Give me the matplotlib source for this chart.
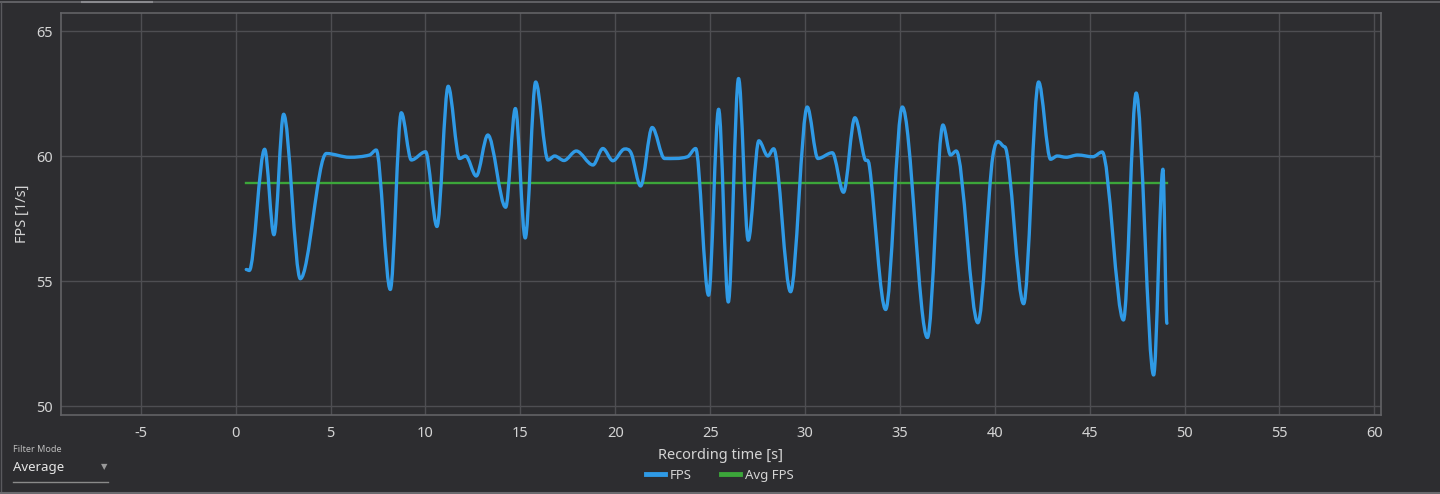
import matplotlib
matplotlib.use("Agg")
import matplotlib.pyplot as plt
from matplotlib.path import Path
from matplotlib.patches import PathPatch
from matplotlib.lines import Line2D

# values (seconds, frames per second)
time_s = [0.56, 0.72, 1.53, 2.02, 2.53, 3.41, 4.78, 6.0, 7.06, 7.41, 8.15, 8.73,
          9.26, 10.01, 10.61, 11.2, 11.8, 12.12, 12.68, 13.29, 14.23, 14.74,
          15.26, 15.81, 16.46, 16.81, 17.3, 17.95, 18.83, 19.35, 19.88, 20.5,
          20.85, 21.34, 21.95, 22.6, 23.81, 24.24, 24.92, 25.45, 25.96, 26.5,
          27.01, 27.57, 28.04, 28.35, 29.24, 30.12, 30.68, 31.44, 32.03, 32.63,
          33.14, 33.4, 34.25, 35.13, 36.45, 37.27, 37.67, 37.97, 39.11, 39.9,
          40.52, 41.52, 42.31, 42.94, 43.29, 43.76, 44.37, 45.17, 45.66, 46.78,
          47.45, 48.37, 48.86, 49.07]
fps = [55.46, 55.42, 60.27, 56.85, 61.67, 55.09, 60.1, 59.95, 60.04, 60.24, 54.66,
       61.73, 59.84, 60.17, 57.18, 62.79, 59.9, 60.0, 59.2, 60.84, 57.95, 61.9,
       56.72, 62.96, 59.84, 60.0, 59.82, 60.2, 59.64, 60.3, 59.81, 60.28, 60.1,
       58.8, 61.14, 59.9, 59.97, 60.3, 54.43, 61.87, 54.16, 63.1, 56.63, 60.61,
       60.0, 60.29, 54.57, 61.96, 59.9, 60.13, 58.55, 61.53, 59.9, 59.57, 53.86,
       61.96, 52.74, 61.24, 60.04, 60.2, 53.33, 60.0, 60.37, 54.09, 62.96, 59.87,
       60.0, 59.95, 60.04, 59.97, 60.16, 53.44, 62.52, 51.24, 59.47, 53.31]
avg_fps = 58.92

xticks = list(range(-5, 61, 5))
yticks = [50, 55, 60, 65]

BG = "#2d2d30"
TXT = "#d4d4d4"
BLUE = "#2f9ae6"
GREEN = "#3ca63a"


def smooth_path(xs, ys):
    # cubic bezier through the points, flat tangents at local extrema
    n = len(xs)
    slopes = []
    for i in range(n):
        if i == 0 or i == n - 1:
            slopes.append(0.0)
            continue
        d1 = ys[i] - ys[i - 1]
        d2 = ys[i + 1] - ys[i]
        if d1 * d2 <= 0:
            slopes.append(0.0)
        else:
            slopes.append((ys[i + 1] - ys[i - 1]) / (xs[i + 1] - xs[i - 1]))
    verts = [(xs[0], ys[0])]
    codes = [Path.MOVETO]
    for i in range(n - 1):
        h = xs[i + 1] - xs[i]
        verts += [(xs[i] + h / 3, ys[i] + slopes[i] * h / 3),
                  (xs[i + 1] - h / 3, ys[i + 1] - slopes[i + 1] * h / 3),
                  (xs[i + 1], ys[i + 1])]
        codes += [Path.CURVE4] * 3
    return Path(verts, codes)


plt.rcParams['font.family'] = ['Noto Sans', 'DejaVu Sans']
plt.rcParams['axes.unicode_minus'] = False
fig = plt.figure(figsize=(14.4, 4.94), dpi=100, facecolor=BG)
ax = fig.add_axes([61 / 1440, 1 - 415 / 494, 1320 / 1440, 402 / 494])
ax.set_facecolor(BG)

ax.add_patch(PathPatch(smooth_path(time_s, fps), fill=False, edgecolor=BLUE,
                       lw=2.4, capstyle='round', joinstyle='round', zorder=4))
ax.plot([time_s[0], time_s[-1]], [avg_fps, avg_fps], color=GREEN, lw=1.7, zorder=3)

ax.set_xlim(-9.2, 60.35)
ax.set_ylim(49.64, 65.72)
ax.set_xticks(xticks)
ax.set_yticks(yticks)
ax.grid(True, color="#4e4e52", lw=1)
ax.tick_params(colors=TXT, labelsize=10.5, length=0)
ax.tick_params(axis='x', pad=8)
ax.tick_params(axis='y', pad=6)
for s in ax.spines.values():
    s.set_color("#626266")
    s.set_linewidth(1.2)

ax.set_ylabel("FPS [1/s]", color=TXT, fontsize=10.5)
ax.yaxis.set_label_coords((22 - 61) / 1320, 0.5)
ax.set_xlabel("Recording time [s]", color=TXT, fontsize=10.5)
ax.xaxis.set_label_coords(0.5, (415 - 455) / 402)
ax.xaxis.label.set_va('center')
ax.yaxis.label.set_va('center')

handles = [Line2D([], [], color=BLUE, lw=3.5), Line2D([], [], color=GREEN, lw=3.5)]
fig.legend(handles, ["FPS", "Avg FPS"], loc='center', bbox_to_anchor=(0.5, 1 - 475 / 494),
           ncol=2, frameon=False, fontsize=9.5, labelcolor=TXT, handlelength=1.4,
           handletextpad=0.4, columnspacing=2.2, borderpad=0)

# filter mode dropdown
fig.text(13 / 1440, 1 - 449 / 494, "Filter Mode", color="#bdbdbd", fontsize=6.5, va='center')
fig.text(13 / 1440, 1 - 467 / 494, "Average", color="#e6e6e6", fontsize=9.5, va='center')
fig.text(104 / 1440, 1 - 467 / 494, "\u25BC", color="#9a9a9a", fontsize=6, va='center', ha='center',
         family='DejaVu Sans')
fig.add_artist(Line2D([13 / 1440, 108 / 1440], [1 - 482 / 494] * 2, color="#8a8a8a", lw=1))

# window frame
fig.add_artist(Line2D([0, 1], [1 - 2 / 494] * 2, color="#6a6a6e", lw=1.2))
fig.add_artist(Line2D([82 / 1440, 152 / 1440], [1 - 2 / 494] * 2, color="#8a8a8e", lw=1.5))
fig.add_artist(Line2D([1 / 1440, 1 / 1440], [0, 1 - 2 / 494], color="#5a5a5e", lw=1))
fig.add_artist(Line2D([0, 1], [1 / 494, 1 / 494], color="#6a6a6e", lw=1.5))

fig.savefig("out.png", dpi=100, facecolor=BG)
